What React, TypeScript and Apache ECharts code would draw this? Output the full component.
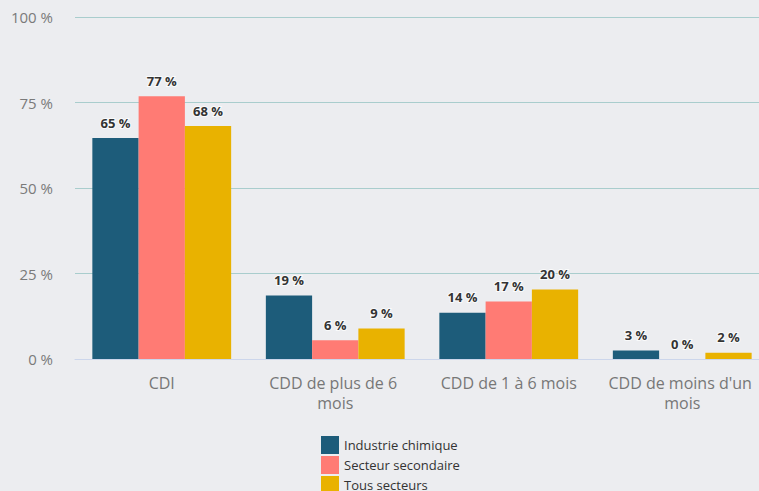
import React, { useEffect, useRef } from "react";
import * as echarts from "echarts";

const categories = ["CDI", "CDD de plus de 6 mois", "CDD de 1 à 6 mois", "CDD de moins d'un mois"];
const industrieChimique = [64.6, 18.6, 13.5, 2.5];
const secteurSecondaire = [76.8, 5.5, 16.8, 0];
const tousSecteurs = [68.1, 8.9, 20.3, 1.8];
const seriesNames = ["Industrie chimique", "Secteur secondaire", "Tous secteurs"];
const colors = ["#1d5c7a", "#ff7b74", "#e9b200"];

export default function App() {
  const ref = useRef<HTMLDivElement>(null);
  useEffect(() => {
    if (!ref.current) return;
    const chart = echarts.init(ref.current, null, { renderer: "svg" });
    const font = "'Open Sans', sans-serif";
    const mk = (name: string, data: number[], color: string) => ({
      name,
      type: "bar",
      data,
      barGap: "0%",
      barCategoryGap: "20%",
      itemStyle: { color },
      label: {
        show: true,
        position: "top",
        distance: 9,
        fontFamily: font,
        fontSize: 13,
        fontWeight: "bold",
        color: "#333",
        textBorderColor: "rgba(255,255,255,0.8)",
        textBorderWidth: 2,
        formatter: (p: any) => Math.round(p.value) + " %",
      },
    });
    chart.setOption({
      animation: false,
      backgroundColor: "#ecedf0",
      textStyle: { fontFamily: font },
      grid: { left: 75, top: 17, width: 694, height: 342, containLabel: false },
      legend: {
        orient: "vertical",
        left: 321,
        top: 436,
        height: 80,
        itemWidth: 18,
        itemHeight: 18,
        itemGap: 2,
        icon: "rect",
        padding: 0,
        data: seriesNames,
        textStyle: { fontFamily: font, fontSize: 13, color: "#333" },
      },
      xAxis: {
        type: "category",
        data: categories,
        axisLine: { lineStyle: { color: "#ccd6eb" } },
        axisTick: { show: false },
        axisLabel: {
          fontFamily: font,
          fontSize: 16,
          color: "#777",
          margin: 14,
          width: 160,
          overflow: "break",
          lineHeight: 20,
          interval: 0,
        },
      },
      yAxis: {
        type: "value",
        min: 0,
        max: 100,
        interval: 25,
        axisLabel: {
          fontFamily: font,
          fontSize: 15,
          color: "#7a7a7a",
          margin: 22,
          formatter: (v: number) => v + " %",
        },
        splitLine: { lineStyle: { color: "#a9cdcd" } },
      },
      series: [
        mk(seriesNames[0], industrieChimique, colors[0]),
        mk(seriesNames[1], secteurSecondaire, colors[1]),
        mk(seriesNames[2], tousSecteurs, colors[2]),
      ],
    });
    return () => chart.dispose();
  }, []);
  return (
    <div
      style={{
        position: "fixed",
        left: 0,
        top: 0,
        width: 759,
        height: 491,
        overflow: "hidden",
        background: "#ecedf0",
      }}
    >
      <div ref={ref} style={{ width: 780, height: 491 }} />
    </div>
  );
}
